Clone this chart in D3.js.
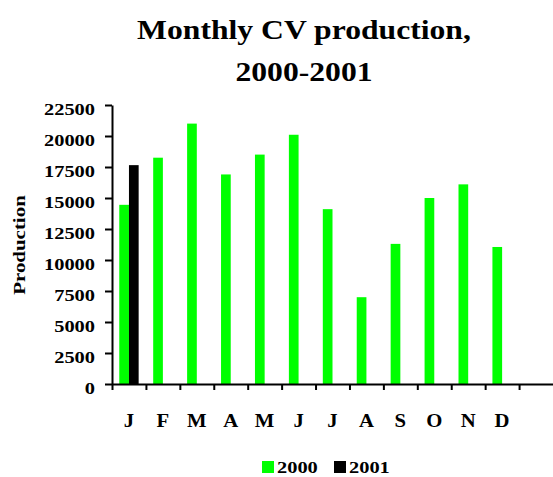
<!DOCTYPE html>
<html>
<head>
<meta charset="utf-8">
<script src="https://cdn.jsdelivr.net/npm/d3@7.9.0/dist/d3.min.js"></script>
<style>
  html, body { margin: 0; padding: 0; background: #fff; }
  svg { display: block; font-family: "Liberation Serif", "Times New Roman", serif; font-weight: bold; }
</style>
</head>
<body>
<div id="chart"></div>
<script>
const months = ["J", "F", "M", "A", "M", "J", "J", "A", "S", "O", "N", "D"];
const seriesNames = ["2000", "2001"];
const values2000 = [14450, 18250, 21000, 16900, 18500, 20100, 14100, 7000, 11300, 15000, 16100, 11050];
const values2001 = [17650, null, null, null, null, null, null, null, null, null, null, null];
const yTicks = [0, 2500, 5000, 7500, 10000, 12500, 15000, 17500, 20000, 22500];
const colors = ["#00ff00", "#000000"];

const width = 553;
const height = 477;
const plot = { left: 112, right: 553, top: 105, bottom: 384 };
const slots = 13; // 12 months plus one empty slot at the end

// stretch text horizontally to mimic the wide bitmap font
function stretch(sel, k) {
  sel.each(function () {
    const len = this.getComputedTextLength();
    if (len > 0) {
      d3.select(this).attr("textLength", len * k).attr("lengthAdjust", "spacingAndGlyphs");
    }
  });
}

const svg = d3.select("#chart").append("svg")
  .attr("width", width)
  .attr("height", height)
  .attr("viewBox", `0 0 ${width} ${height}`);

const y = d3.scaleLinear().domain([0, 22500]).range([plot.bottom, plot.top]);
const x = d3.scaleBand().domain(d3.range(slots)).range([plot.left, plot.right]).padding(0);
const xInner = d3.scaleBand().domain(seriesNames).range([0, x.bandwidth()]).paddingInner(0).paddingOuter(0.75);
const xEdge = d3.scaleLinear().domain([0, slots]).range([plot.left, plot.right]);

const rows = months.map((m, i) => ({ i, month: m, vals: [values2000[i], values2001[i]] }));

// bars
const groups = svg.append("g").selectAll("g")
  .data(rows)
  .join("g")
  .attr("transform", d => `translate(${x(d.i)},0)`);

groups.selectAll("rect")
  .data(d => d.vals.map((v, s) => ({ v, s })).filter(e => e.v != null))
  .join("rect")
  .attr("x", e => xInner(seriesNames[e.s]))
  .attr("width", xInner.bandwidth())
  .attr("y", e => y(e.v))
  .attr("height", e => y(0) - y(e.v))
  .attr("fill", e => colors[e.s]);

// y axis
const yAxis = svg.append("g")
  .attr("transform", `translate(${plot.left},0)`)
  .call(d3.axisLeft(y).tickValues(yTicks).tickSize(7).tickSizeOuter(0).tickPadding(10).tickFormat(d3.format("d")));
yAxis.select(".domain").attr("stroke", "#000").attr("stroke-width", 2);
yAxis.selectAll(".tick line").attr("stroke", "#000").attr("stroke-width", 2);
yAxis.selectAll(".tick text")
  .attr("font-size", 17)
  .attr("font-family", "Liberation Serif, serif")
  .attr("font-weight", "bold")
  .attr("fill", "#000")
  .attr("dy", "0.58em")
  .call(stretch, 1.2);

// x axis with ticks on the slot edges
const xAxis = svg.append("g")
  .attr("transform", `translate(0,${plot.bottom})`)
  .call(d3.axisBottom(xEdge).tickValues(d3.range(slots)).tickSize(6).tickSizeOuter(0).tickFormat(""));
xAxis.select(".domain").attr("stroke", "#000").attr("stroke-width", 2);
xAxis.selectAll(".tick line").attr("stroke", "#000").attr("stroke-width", 2);

// month labels
svg.append("g").selectAll("text")
  .data(rows)
  .join("text")
  .attr("x", d => x(d.i) + x.bandwidth() / 2)
  .attr("y", 427)
  .attr("text-anchor", "middle")
  .attr("font-size", 18)
  .text(d => d.month)
  .call(stretch, 1.15);

// y label
svg.append("text")
  .attr("transform", "translate(25,245) rotate(-90)")
  .attr("text-anchor", "middle")
  .attr("font-size", 17)
  .text("Production")
  .call(stretch, 1.23);

// title
const title = svg.append("g").attr("font-size", 28).attr("text-anchor", "middle");
title.append("text").attr("x", 304).attr("y", 39).text("Monthly CV production,").call(stretch, 1.13);
title.append("text").attr("x", 304).attr("y", 81).text("2000-2001").call(stretch, 1.13);

// legend
const legendX = [262, 334];
const legend = svg.append("g").selectAll("g")
  .data(seriesNames)
  .join("g")
  .attr("transform", (d, i) => `translate(${legendX[i]},461)`);
legend.append("rect")
  .attr("width", 12)
  .attr("height", 12)
  .attr("fill", (d, i) => colors[i]);
legend.append("text")
  .attr("x", 15)
  .attr("y", 12)
  .attr("font-size", 17)
  .text(d => d)
  .call(stretch, 1.2);
</script>
</body>
</html>
